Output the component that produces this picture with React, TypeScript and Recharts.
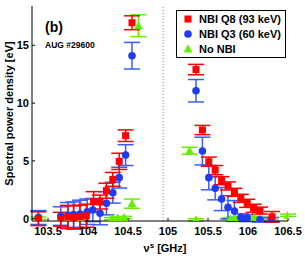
import React from 'react';
import { ScatterChart, Scatter, XAxis, YAxis, ErrorBar, ReferenceLine } from 'recharts';

const xTicks = [103.5, 104, 104.5, 105, 105.5, 106, 106.5];
const yTicks = [0, 5, 10, 15];

const q8X = [103.38, 103.66, 103.75, 103.82, 103.9, 103.98, 104.07, 104.15, 104.23, 104.31, 104.39, 104.47, 104.55, 105.35, 105.43, 105.51, 105.59, 105.67, 105.75, 105.83, 105.91, 105.99, 106.07, 106.15, 106.3];
const q8Y = [0, -0.05, 0.15, 0.1, 0.17, 0.26, 1.47, 1.44, 2.42, 3.4, 4.96, 7.18, 16.95, 12.9, 7.67, 4.93, 4.2, 3.29, 2.83, 2.28, 1.76, 1.33, 0.9, 0.7, 0.17];
const q8Err = [0.6, 0.6, 1.0, 1.0, 1.0, 1.0, 0.87, 0.6, 0.65, 0.6, 0.7, 0.5, 0.6, 0.45, 0.4, 0.4, 0.4, 0.35, 0.35, 0.35, 0.35, 0.35, 0.35, 0.3, 0.45];

const q3X = [103.38, 103.66, 103.75, 103.82, 103.9, 103.99, 104.06, 104.15, 104.23, 104.31, 104.39, 104.47, 104.55, 105.35, 105.43, 105.51, 105.59, 105.67, 105.75, 105.83, 105.91, 105.99, 106.15, 106.29];
const q3Y = [0.1, 0.23, 0.3, 0.35, 0.4, 0.6, 0.75, 0.47, 1.33, 2.25, 3.55, 5.5, 14.1, 11.07, 5.85, 3.55, 2.63, 1.7, 0.99, 0.67, 0.12, 0.05, -0.1, -0.1];
const q3Err = [0.6, 0.8, 1.1, 1.1, 1.2, 1.1, 1.0, 1.0, 1.0, 0.9, 0.9, 0.9, 1.15, 0.97, 1.2, 1.05, 1.0, 1.0, 1.0, 0.9, 0.3, 0.3, 0.2, 0.2];

const noX = [103.38, 103.75, 103.9, 104.3, 104.37, 104.45, 104.55, 104.63, 105.27, 105.35, 105.78, 105.84, 106.08, 106.15, 106.28, 106.5];
const noY = [0.05, -0.05, 0, 0, 0.05, 0.1, 1.3, 16.7, 5.88, -0.1, 0, 0.05, 0.1, 0, 0, 0.3];
const noErr = [0.1, 0.1, 0.1, 0.1, 0.1, 0.1, 0.4, 0.95, 0.3, 0.1, 0.1, 0.1, 0.1, 0.1, 0.1, 0.1];

const mk = (xs: number[], ys: number[], es: number[]) => xs.map((x, i) => ({ x, y: ys[i], e: es[i] }));
const q8Data = mk(q8X, q8Y, q8Err);
const q3Data = mk(q3X, q3Y, q3Err);
const noData = mk(noX, noY, noErr);

const RED = '#ff0000';
const BLUE = '#1f3cf0';
const BLUE_ERR = '#3a5cff';
const GREEN = '#66ee00';
const FONT = '"Liberation Sans", Arial, Helvetica, sans-serif';

const Square = (p: any) => <rect x={p.cx - 3.5} y={p.cy - 3.5} width={7} height={7} fill={RED} />;
const Circle = (p: any) => <circle cx={p.cx} cy={p.cy} r={3.8} fill={BLUE} />;
const Tri = (p: any) => (
  <polygon points={`${p.cx},${p.cy - 4.5} ${p.cx - 4.5},${p.cy + 3.5} ${p.cx + 4.5},${p.cy + 3.5}`} fill={GREEN} />
);

const tickStyle = { fill: '#000', fontSize: 11, fontWeight: 'bold', fontFamily: FONT };

export default function App() {
  return (
    <div style={{ position: 'absolute', left: 0, top: 0, width: 305, height: 256, background: '#fff' }}>
      <ScatterChart width={305} height={256} margin={{ top: 6, right: 17, bottom: 0, left: 0 }}>
        <XAxis
          xAxisId="b"
          type="number"
          dataKey="x"
          domain={[103.3, 106.5]}
          ticks={xTicks}
          allowDataOverflow
          orientation="bottom"
          height={35}
          tickSize={-3}
          tickMargin={9}
          stroke="#000"
          tick={tickStyle}
          label={{
            content: () => (
              <text x={165} y={252} textAnchor="middle" fontFamily={FONT} fontWeight="bold" fontSize={11} fill="#000">
                ν<tspan dy={-4} fontSize={8}>s</tspan>
                <tspan dy={4}> [GHz]</tspan>
              </text>
            ),
          }}
        />
        <XAxis
          xAxisId="t"
          type="number"
          dataKey="x"
          domain={[103.3, 106.5]}
          ticks={xTicks}
          allowDataOverflow
          orientation="top"
          height={0}
          tickSize={-3}
          tickFormatter={() => ''}
          stroke="#000"
        />
        <YAxis
          yAxisId="l"
          type="number"
          dataKey="y"
          domain={[-0.2, 18.4]}
          ticks={yTicks}
          allowDataOverflow
          width={32}
          tickSize={-3}
          tickMargin={6}
          stroke="#000"
          tick={tickStyle}
          label={{
            content: (props: any) => {
              const vb = props.viewBox || { y: 6, height: 215 };
              const cy = vb.y + vb.height / 2;
              return (
                <text x={13} y={cy} transform={`rotate(-90 13 ${cy})`} textAnchor="middle" fontFamily={FONT} fontWeight="bold" fontSize={11} fill="#000">
                  Spectral power density [eV]
                </text>
              );
            },
          }}
        />
        <YAxis
          yAxisId="r"
          type="number"
          dataKey="y"
          domain={[-0.2, 18.4]}
          ticks={yTicks}
          allowDataOverflow
          orientation="right"
          width={0}
          tickSize={-3}
          tickFormatter={() => ''}
          stroke="#000"
        />
        <ReferenceLine xAxisId="b" yAxisId="l" x={104.94} stroke="#888" strokeDasharray="1 2" />
        <Scatter xAxisId="b" yAxisId="l" data={noData} shape={Tri} isAnimationActive={false}>
          <ErrorBar dataKey="e" direction="y" width={8} stroke={GREEN} strokeWidth={1.5} />
        </Scatter>
        <Scatter xAxisId="b" yAxisId="l" data={q3Data} shape={Circle} isAnimationActive={false}>
          <ErrorBar dataKey="e" direction="y" width={8} stroke={BLUE_ERR} strokeWidth={1.5} />
        </Scatter>
        <Scatter xAxisId="b" yAxisId="l" data={q8Data} shape={Square} isAnimationActive={false}>
          <ErrorBar dataKey="e" direction="y" width={8} stroke={RED} strokeWidth={1.5} />
        </Scatter>
      </ScatterChart>
      <svg width={305} height={256} style={{ position: 'absolute', left: 0, top: 0, pointerEvents: 'none' }}>
        <text x={45} y={32} fontFamily={FONT} fontWeight="bold" fontSize={14} fill="#000">(b)</text>
        <text x={45} y={48} fontFamily={FONT} fontWeight="bold" fontSize={8.5} fill="#000">AUG #29600</text>
        <rect x={176.5} y={10.5} width={109} height={47} fill="#fff" stroke="#000" strokeWidth={1} />
        <rect x={184.5} y={15.5} width={7} height={7} fill={RED} />
        <circle cx={188} cy={34} r={3.8} fill={BLUE} />
        <polygon points="188,44.5 183.5,52.5 192.5,52.5" fill={GREEN} />
        <text x={199} y={23} fontFamily={FONT} fontWeight="bold" fontSize={11} fill="#000">NBI Q8 (93 keV)</text>
        <text x={199} y={38} fontFamily={FONT} fontWeight="bold" fontSize={11} fill="#000">NBI Q3 (60 keV)</text>
        <text x={199} y={53} fontFamily={FONT} fontWeight="bold" fontSize={11} fill="#000">No NBI</text>
      </svg>
    </div>
  );
}
